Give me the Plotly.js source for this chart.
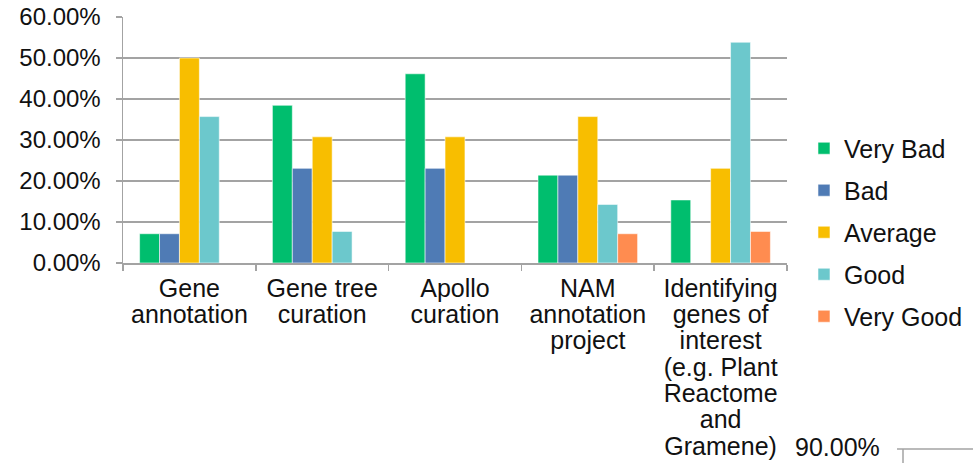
<!DOCTYPE html>
<html><head><meta charset="utf-8">
<script src="https://cdn.plot.ly/plotly-3.0.1.min.js"></script>
<style>html,body{margin:0;padding:0;background:#fff;}</style>
</head><body>
<div id="chart" style="width:973px;height:463px;"></div>
<script>
// ---- data ----
const categories = [
  'Gene<br>annotation',
  'Gene tree<br>curation',
  'Apollo<br>curation',
  'NAM<br>annotation<br>project',
  'Identifying<br>genes of<br>interest<br>(e.g. Plant<br>Reactome<br>and<br>Gramene)'
];
const seriesNames = ['Very Bad', 'Bad', 'Average', 'Good', 'Very Good'];
const veryBad  = [0.0714, 0.3846, 0.4615, 0.2143, 0.1538];
const bad      = [0.0714, 0.2308, 0.2308, 0.2143, null];
const average  = [0.5000, 0.3077, 0.3077, 0.3571, 0.2308];
const good     = [0.3571, 0.0769, null,   0.1429, 0.5385];
const veryGood = [null,   null,   null,   0.0714, 0.0769];
const yTickValues = [0, 0.1, 0.2, 0.3, 0.4, 0.5, 0.6];
const strayLabel = '90.00%';

// ---- styling ----
const seriesValues = [veryBad, bad, average, good, veryGood];
const colors = ['#00BE6E', '#4F7BB5', '#F8BE00', '#6CC8CC', '#FF8C50'];
const gridCol = '#a3a3a3';
const font = '"Liberation Sans", Arial, Helvetica, sans-serif';

const traces = seriesNames.map((name, i) => ({
  type: 'bar',
  name: name,
  x: categories,
  y: seriesValues[i],
  legendgroup: 'g' + i,
  marker: { color: colors[i], line: { color: 'rgba(255,255,255,0.55)', width: 1 } },
  hoverinfo: 'none'
}));

const layout = {
  width: 973, height: 463,
  margin: { l: 123, r: 186, t: 17, b: 200, pad: 0 },
  paper_bgcolor: '#fff', plot_bgcolor: '#fff',
  font: { family: font, color: '#111', size: 25 },
  barmode: 'group',
  bargap: 0.25,
  bargroupgap: 0,
  showlegend: true,
  legend: {
    xref: 'container', yref: 'container',
    x: 0.8263, xanchor: 'left', y: 0.729, yanchor: 'top',
    font: { family: font, size: 25, color: '#111' },
    tracegroupgap: 6.5, traceorder: 'grouped',
    bgcolor: 'rgba(0,0,0,0)'
  },
  xaxis: {
    type: 'category',
    showgrid: false, zeroline: false,
    showline: true, linecolor: gridCol, linewidth: 1.5,
    ticks: 'outside', tickson: 'boundaries', ticklen: 6, tickwidth: 1.5, tickcolor: gridCol,
    tickfont: { family: font, size: 25, color: '#111' },
    ticklabelstandoff: 2,
    fixedrange: true
  },
  yaxis: {
    range: [0, 0.6],
    tickvals: yTickValues,
    tickformat: '.2%',
    showgrid: true, gridcolor: gridCol, gridwidth: 1.5,
    zeroline: false,
    showline: true, linecolor: gridCol, linewidth: 1.5,
    ticks: 'outside', ticklen: 6, tickwidth: 1.5, tickcolor: gridCol,
    tickfont: { family: font, size: 24, color: '#111' },
    ticklabelstandoff: 10,
    fixedrange: true
  },
  annotations: [{
    text: strayLabel, xref: 'paper', yref: 'paper',
    x: 1.0768, y: -0.748, xanchor: 'center', yanchor: 'middle',
    showarrow: false, font: { family: font, size: 25, color: '#111' }
  }],
  shapes: [
    { type: 'line', xref: 'paper', yref: 'paper', x0: 1.1657, x1: 1.29, y0: -0.756, y1: -0.756,
      line: { color: gridCol, width: 1.5 } },
    { type: 'line', xref: 'paper', yref: 'paper', x0: 1.1747, x1: 1.1747, y0: -0.756, y1: -0.82,
      line: { color: gridCol, width: 1.5 } }
  ]
};

Plotly.newPlot('chart', traces, layout, { displayModeBar: false, staticPlot: true }).then(gd => {
  // tighten multi-line tick label spacing to match the reference
  gd.querySelectorAll('.xtick text tspan.line').forEach(t => {
    const dy = parseFloat(t.getAttribute('dy'));
    if (!isNaN(dy)) t.setAttribute('dy', (dy * 1.055 / 1.3) + 'em');
  });
});
</script>
</body></html>
